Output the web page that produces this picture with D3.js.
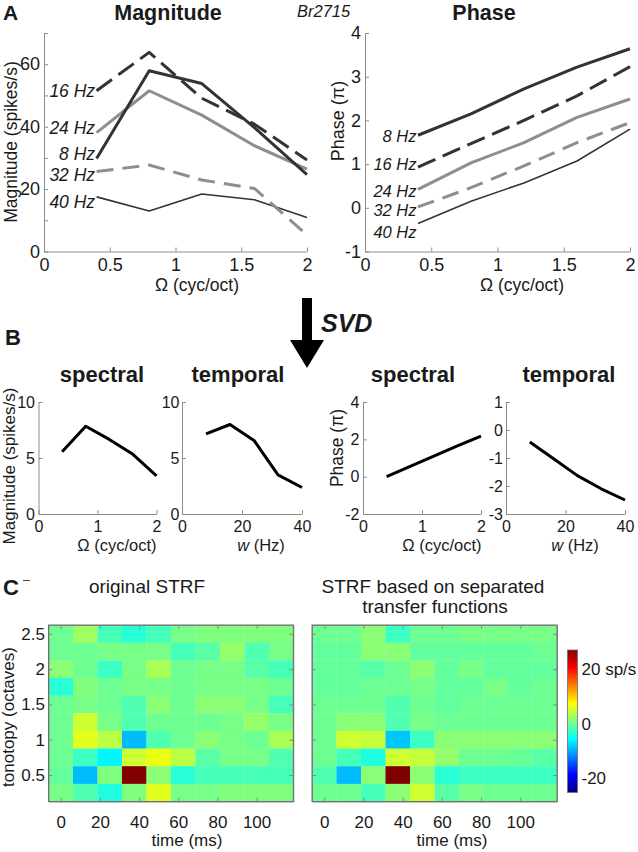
<!DOCTYPE html>
<html>
<head>
<meta charset="utf-8">
<script src="https://cdn.jsdelivr.net/npm/d3@7"></script>
<style>
  body { margin: 0; background: #fff; }
  svg { display: block; }
  text { font-family: "Liberation Sans", Arial, Helvetica, sans-serif; fill: #1a1a1a; }
</style>
</head>
<body>
<svg id="chart" width="638" height="852"></svg>
<script>
// ---------------- DATA ----------------
const spectralOmega = [0.4, 0.8, 1.2, 1.6, 2.0];          // cyc/oct
const temporalRates = [8, 16, 24, 32, 40];                 // Hz
const rateLabels = ["8 Hz", "16 Hz", "24 Hz", "32 Hz", "40 Hz"];

// Panel A magnitude (spikes/s)
const mag8Hz  = [29.8, 57.9, 53.8, 39.7, 24.6];
const mag16Hz = [51.5, 63.8, 49.1, 40.8, 29.3];
const mag24Hz = [38.1, 51.5, 43.7, 33.9, 26.4];
const mag32Hz = [25.6, 27.7, 22.9, 20.2, 5.3];
const mag40Hz = [17.5, 13.0, 18.4, 16.6, 10.9];

// Panel A phase (pi)
const phase8Hz  = [1.66, 2.15, 2.72, 3.22, 3.64];
const phase16Hz = [0.93, 1.47, 2.00, 2.56, 3.23];
const phase24Hz = [0.42, 1.03, 1.49, 2.07, 2.49];
const phase32Hz = [0.02, 0.46, 0.96, 1.49, 1.95];
const phase40Hz = [-0.36, 0.15, 0.57, 1.07, 1.80];

// Panel B SVD components
const svdSpectralMag   = [5.56, 7.84, 6.66, 5.33, 3.40];
const svdTemporalMag   = [7.16, 7.99, 6.57, 3.49, 2.37];
const svdSpectralPhase = [0.00, 0.55, 1.10, 1.65, 2.17];
const svdTemporalPhase = [-0.43, -1.03, -1.63, -2.10, -2.50];

// Panel C STRFs (rows: tonotopy top->bottom, cols: time)
const strfTimes   = [0, 12.5, 25, 37.5, 50, 62.5, 75, 87.5, 100, 112.5];   // ms
const strfOctaves = [2.5, 2.25, 2.0, 1.75, 1.5, 1.25, 1.0, 0.75, 0.5, 0.25];
const strfOriginal = [
  [0, 2.5, -2, -3.5, -2, 0.5, 1, 1, 1, 1],
  [0, 0, 0.5, 0.5, 0.5, -2, -1, 2, -1.5, 0.5],
  [1.5, 0, -2.5, 0.5, 3, 0, 0.5, 0.5, -1, -2],
  [-3.5, 1, 0, 0.5, 0.5, 0, 0.5, 0.5, 0.5, 0],
  [0, 0.5, 0, -1.5, 1.5, 0, 1.5, 1.5, 0.5, -2],
  [0, 5, 0.5, -1.5, 0, 0, 0, 0.5, 2, 0.5],
  [0, 6, 4, -9, -1.5, 0, 1.5, 0.5, 0, 3],
  [0, -2.5, -6, 5, 6.5, 4, -1, 0.5, 0.5, -1.5],
  [-0.5, -9, 1, 27, 1.5, -3.5, -2, -2, -2, -2],
  [0.5, -1.5, -4, 1, 6, 0.5, 0.5, 1, 1, 1]
];
const strfSeparated = [
  [0, 0, 1.5, -2.5, 0, 0, 0.5, 0.5, 0.5, 0.5],
  [-0.5, -0.5, 1.5, 1.5, -0.5, -0.5, -0.5, -0.5, -0.5, 0],
  [-0.5, -0.5, -1, 0, 1.5, -0.5, 0.5, -0.5, -0.5, -0.5],
  [-0.5, -0.5, 0, 0, 0.5, -0.5, -0.5, 0.5, -0.5, 0],
  [0, 0, 0, -1.5, 0, -0.5, 0, 0, 0, 0],
  [0, 1.5, 1.5, -1.5, 0.5, 0, 0, 0, 0, 0],
  [0, 5, 4.5, -8.5, -2.5, 1.5, 1.5, 1.5, 1.5, 1.5],
  [0, -2, -4, 5, 4.5, 2, 0, 0, -0.3, -1],
  [-1.5, -9, 1.5, 27, 1.5, -3.5, -2.5, -2.5, -2.5, -2.5],
  [0, 0, -2, 1.5, 5, -1, 0.5, 0, 0, 0]
];
const colorRange = [-25.2, 27.1];   // sp/s
const colorbarTicks = [-20, 0, 20];
const colorbarTickLabels = ["-20", "0", "20 sp/s"];

// ---------------- STYLE ----------------
const AXIS = "#8c8c8c", DARK = "#333333", GRAY = "#8e8e8e";
const seriesStyle = [
  { color: DARK, width: 3,   dash: null },     // 8 Hz
  { color: DARK, width: 3,   dash: "19,8" },   // 16 Hz
  { color: GRAY, width: 3,   dash: null },     // 24 Hz
  { color: GRAY, width: 3,   dash: "17,9" },   // 32 Hz
  { color: DARK, width: 1.6, dash: null }      // 40 Hz
];
const magLabelDy   = [-4.5, 0, -4.5, 3.5, 5];
const phaseLabelDy = [0.5, -3, 1.5, 3, 8.5];

const svg = d3.select("#chart");

function styleAxis(g, fontSize) {
  g.select(".domain").attr("stroke", AXIS).attr("stroke-width", 1);
  g.selectAll(".tick line").attr("stroke", AXIS);
  g.selectAll(".tick text").attr("fill", "#1a1a1a").style("font-size", fontSize + "px");
}

function axesLB(xs, ys, o) {
  const gx = svg.append("g").attr("transform", `translate(0,${ys.range()[0]})`)
    .call(d3.axisBottom(xs).tickValues(o.xTicks).tickFormat(o.xFmt || (d => d))
      .tickSizeInner(-4).tickSizeOuter(0).tickPadding(o.xPad));
  styleAxis(gx, o.fs);
  const gy = svg.append("g").attr("transform", `translate(${xs.range()[0]},0)`)
    .call(d3.axisLeft(ys).tickValues(o.yTicks).tickFormat(o.yFmt || (d => d))
      .tickSizeInner(-4).tickSizeOuter(0).tickPadding(o.yPad));
  styleAxis(gy, o.fs);
}

function text(x, y, str, o = {}) {
  const t = svg.append("text").attr("x", x).attr("y", y).text(str)
    .style("font-size", (o.fs || 17) + "px")
    .attr("text-anchor", o.anchor || "start");
  if (o.bold) t.style("font-weight", "bold");
  if (o.italic) t.style("font-style", "italic");
  if (o.rotate) t.attr("transform", `rotate(-90,${x},${y})`);
  if (o.dy) t.attr("dy", o.dy);
  return t;
}

// ---------------- PANEL A ----------------
const magSeries = [mag8Hz, mag16Hz, mag24Hz, mag32Hz, mag40Hz];
const phaseSeries = [phase8Hz, phase16Hz, phase24Hz, phase32Hz, phase40Hz];

const xA1 = d3.scaleLinear().domain([0, 2]).range([44, 307]);
const yA1 = d3.scaleLinear().domain([0, 70]).range([251.5, 33]);
const xA2 = d3.scaleLinear().domain([0, 2]).range([365, 630]);
const yA2 = d3.scaleLinear().domain([-1, 4]).range([251.5, 33]);

axesLB(xA1, yA1, { xTicks: [0, 0.5, 1, 1.5, 2], yTicks: d3.range(0, 71, 10),
  yFmt: d => (d % 20 === 0 ? d : ""), fs: 18, xPad: 7, yPad: 4 });
axesLB(xA2, yA2, { xTicks: [0, 0.5, 1, 1.5, 2], yTicks: [-1, 0, 1, 2, 3, 4],
  fs: 18, xPad: 7, yPad: 4 });

function drawSeries(xs, ys, series, labelDy, fs) {
  // draw order: 40, 32, 24, 16, 8 so dark lines sit on top
  [4, 3, 2, 1, 0].forEach(i => {
    const st = seriesStyle[i];
    const line = d3.line().x((d, j) => xs(spectralOmega[j])).y(d => ys(d));
    svg.append("path").datum(series[i]).attr("d", line)
      .attr("fill", "none").attr("stroke", st.color).attr("stroke-width", st.width)
      .attr("stroke-dasharray", st.dash).attr("stroke-linejoin", "round");
  });
  series.forEach((s, i) => {
    text(xs(spectralOmega[0]) - 1.5, ys(s[0]) + labelDy[i], rateLabels[i],
      { fs: fs, italic: true, anchor: "end", dy: "0.35em" });
  });
}
drawSeries(xA1, yA1, magSeries, magLabelDy, 17.5);
drawSeries(xA2, yA2, phaseSeries, phaseLabelDy, 16.5);

text(3, 20, "A", { fs: 21, bold: true });
text(168, 20, "Magnitude", { fs: 21.5, bold: true, anchor: "middle" });
text(484, 20, "Phase", { fs: 21.5, bold: true, anchor: "middle" });
text(297, 16.5, "Br2715", { fs: 16.5, italic: true });
text(16.5, 142, "Magnitude (spikes/s)", { fs: 17.5, anchor: "middle", rotate: true });
text(344, 121, "Phase (\u03c0)", { fs: 18, anchor: "middle", rotate: true });
text(197, 291, "\u03a9 (cyc/oct)", { fs: 17.5, anchor: "middle" });
text(522, 291, "\u03a9 (cyc/oct)", { fs: 17.5, anchor: "middle" });

// SVD arrow
svg.append("path")
  .attr("d", "M302,298 L312,298 L312,340 L324,340 L307,368 L290,340 L302,340 Z")
  .attr("fill", "#000");
text(321, 332, "SVD", { fs: 25, bold: true, italic: true });

// ---------------- PANEL B ----------------
text(5, 345, "B", { fs: 22, bold: true });
const yBrange = [514, 402];
const xB1 = d3.scaleLinear().domain([0, 2]).range([38.5, 156.5]);
const yB1 = d3.scaleLinear().domain([0, 10]).range(yBrange);
const xB2 = d3.scaleLinear().domain([0, 40]).range([182, 302]);
const yB2 = d3.scaleLinear().domain([0, 10]).range(yBrange);
const xB3 = d3.scaleLinear().domain([0, 2]).range([363, 481]);
const yB3 = d3.scaleLinear().domain([-2, 4]).range(yBrange);
const xB4 = d3.scaleLinear().domain([0, 40]).range([506, 625]);
const yB4 = d3.scaleLinear().domain([-3, 1]).range(yBrange);

axesLB(xB1, yB1, { xTicks: [0, 1, 2], yTicks: [0, 5, 10], fs: 16, xPad: 7, yPad: 3.5 });
axesLB(xB2, yB2, { xTicks: [0, 20, 40], yTicks: [0, 5, 10], fs: 16, xPad: 7, yPad: 2.5 });
axesLB(xB3, yB3, { xTicks: [0, 1, 2], yTicks: [-2, 0, 2, 4], fs: 16, xPad: 7, yPad: 3.5 });
axesLB(xB4, yB4, { xTicks: [0, 20, 40], yTicks: [-3, -2, -1, 0, 1], fs: 16, xPad: 7, yPad: 3 });

function bLine(xs, ys, xv, yv) {
  svg.append("path").datum(yv)
    .attr("d", d3.line().x((d, j) => xs(xv[j])).y(d => ys(d)))
    .attr("fill", "none").attr("stroke", "#000").attr("stroke-width", 3)
    .attr("stroke-linejoin", "round");
}
bLine(xB1, yB1, spectralOmega, svdSpectralMag);
bLine(xB2, yB2, temporalRates, svdTemporalMag);
bLine(xB3, yB3, spectralOmega, svdSpectralPhase);
bLine(xB4, yB4, temporalRates, svdTemporalPhase);

text(102, 382, "spectral", { fs: 22, bold: true, anchor: "middle" });
text(238, 382, "temporal", { fs: 22, bold: true, anchor: "middle" });
text(413, 382, "spectral", { fs: 22, bold: true, anchor: "middle" });
text(569, 382, "temporal", { fs: 22, bold: true, anchor: "middle" });

text(14.5, 466, "Magnitude (spikes/s)", { fs: 17, anchor: "middle", rotate: true });
text(343, 448, "Phase (\u03c0)", { fs: 17.5, anchor: "middle", rotate: true });
text(117, 551, "\u03a9 (cyc/oct)", { fs: 16.5, anchor: "middle" });
text(442, 551, "\u03a9 (cyc/oct)", { fs: 16.5, anchor: "middle" });
function wLabel(x) {
  const t = svg.append("text").attr("x", x).attr("y", 551).attr("text-anchor", "middle")
    .style("font-size", "16.5px");
  t.append("tspan").style("font-style", "italic").text("w");
  t.append("tspan").text(" (Hz)");
}
wLabel(261);
wLabel(575);

// ---------------- PANEL C ----------------
text(3, 595, "C", { fs: 22, bold: true });
svg.append("line").attr("x1", 23).attr("x2", 30).attr("y1", 580.5).attr("y2", 580.5)
  .attr("stroke", "#444").attr("stroke-width", 1);

function jet(t) {
  const c = v => Math.max(0, Math.min(1, v));
  const r = c(Math.min(4 * t - 1.5, -4 * t + 4.5));
  const g = c(Math.min(4 * t - 0.5, -4 * t + 3.5));
  const b = c(Math.min(4 * t + 0.5, -4 * t + 2.5));
  return d3.rgb(r * 255, g * 255, b * 255).toString();
}
const colorNorm = d3.scaleLinear().domain(colorRange).range([0, 1]).clamp(true);
const color = v => jet(colorNorm(v));

const yC = d3.scaleLinear().domain([0.125, 2.625]).range([801.5, 625]);
function heatmap(x0, x1, data, showY) {
  const xs = d3.scaleLinear().domain([-6.25, 118.75]).range([x0, x1]);
  const cw = xs(12.5) - xs(0), ch = yC(0) - yC(0.25);
  const g = svg.append("g");
  data.forEach((row, i) => row.forEach((v, j) => {
    g.append("rect")
      .attr("x", xs(strfTimes[j] - 6.25)).attr("y", yC(strfOctaves[i] + 0.125))
      .attr("width", cw + 0.3).attr("height", ch + 0.3)
      .attr("fill", color(v));
  }));
  const xt = [0, 20, 40, 60, 80, 100], yt = [0.5, 1, 1.5, 2, 2.5];
  const bx = svg.append("g").attr("transform", `translate(0,${yC.range()[0]})`)
    .call(d3.axisBottom(xs).tickValues(xt).tickSizeInner(-4).tickSizeOuter(0).tickPadding(14));
  styleAxis(bx, 17);
  const tx = svg.append("g").attr("transform", `translate(0,${yC.range()[1]})`)
    .call(d3.axisTop(xs).tickValues(xt).tickFormat("").tickSizeInner(-4).tickSizeOuter(0));
  styleAxis(tx, 17);
  const ly = svg.append("g").attr("transform", `translate(${x0},0)`)
    .call(d3.axisLeft(yC).tickValues(yt).tickFormat(showY ? (d => d) : "")
      .tickSizeInner(-4).tickSizeOuter(0).tickPadding(3.5));
  styleAxis(ly, 17);
  const ry = svg.append("g").attr("transform", `translate(${x1},0)`)
    .call(d3.axisRight(yC).tickValues(yt).tickFormat("").tickSizeInner(-4).tickSizeOuter(0));
  styleAxis(ry, 17);
  svg.append("rect").attr("x", x0).attr("y", 625).attr("width", x1 - x0).attr("height", 801.5 - 625)
    .attr("fill", "none").attr("stroke", "#6f6f6f").attr("stroke-width", 1);
}
heatmap(48.5, 293.3, strfOriginal, true);
heatmap(312, 557, strfSeparated, false);

text(147, 593, "original STRF", { fs: 19, anchor: "middle" });
text(433, 593, "STRF based on separated", { fs: 19, anchor: "middle" });
text(435, 613, "transfer functions", { fs: 19, anchor: "middle" });
text(187, 846, "time (ms)", { fs: 17, anchor: "middle" });
text(452, 846, "time (ms)", { fs: 17, anchor: "middle" });
text(13.5, 717, "tonotopy (octaves)", { fs: 17, anchor: "middle", rotate: true });

// colorbar
const cbY = d3.scaleLinear().domain(colorRange).range([792.5, 650]);
const defs = svg.append("defs");
const grad = defs.append("linearGradient").attr("id", "jetgrad")
  .attr("x1", 0).attr("y1", 1).attr("x2", 0).attr("y2", 0);
d3.range(0, 1.0001, 0.0625).forEach(t => {
  grad.append("stop").attr("offset", t).attr("stop-color", jet(t));
});
svg.append("rect").attr("x", 567.5).attr("y", cbY(colorRange[1]))
  .attr("width", 10).attr("height", cbY(colorRange[0]) - cbY(colorRange[1]))
  .attr("fill", "url(#jetgrad)").attr("stroke", "#6f6f6f").attr("stroke-width", 0.8);
colorbarTicks.forEach((v, i) => {
  text(581.5, cbY(v), colorbarTickLabels[i], { fs: 17, dy: "0.35em" });
});
</script>
</body>
</html>
